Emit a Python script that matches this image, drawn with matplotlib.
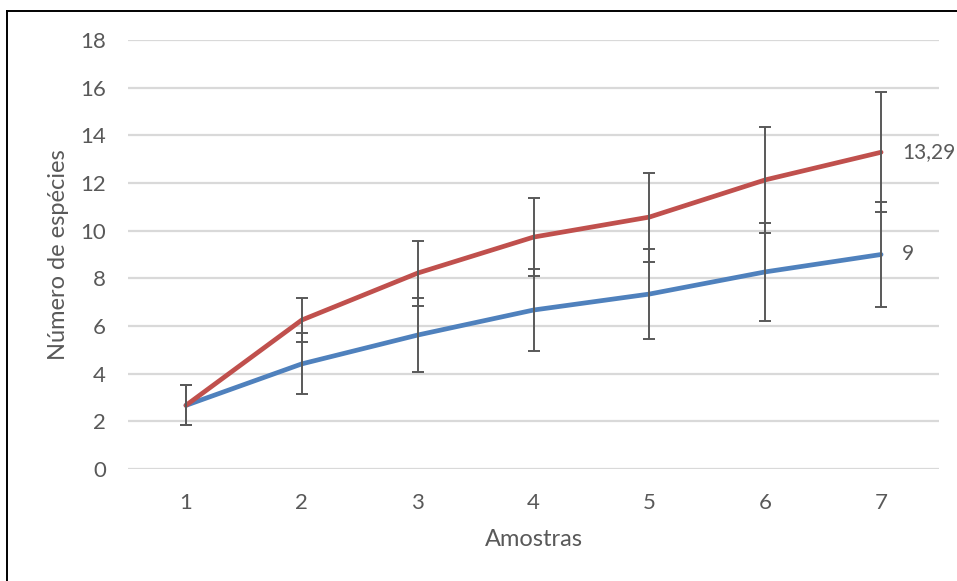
import matplotlib
matplotlib.use("Agg")
import matplotlib.pyplot as plt
from matplotlib.lines import Line2D

plt.rcParams['font.family'] = ['Lato', 'DejaVu Sans']

samples = [1, 2, 3, 4, 5, 6, 7]
red_values = [2.67, 6.25, 8.22, 9.73, 10.57, 12.13, 13.29]
red_err = [0.84, 0.92, 1.36, 1.65, 1.87, 2.24, 2.52]
blue_values = [2.67, 4.41, 5.62, 6.67, 7.34, 8.27, 9.0]
blue_err = [0.84, 1.28, 1.57, 1.73, 1.89, 2.05, 2.20]
yticks = [0, 2, 4, 6, 8, 10, 12, 14, 16, 18]
red_label = "13,29"
blue_label = "9"

RED = "#C0504D"
BLUE = "#4F81BD"
GRID = "#D9D9D9"
TEXT = "#595959"
ERR = "#595959"

W, H = 957, 581
fig = plt.figure(figsize=(W / 100, H / 100), dpi=100)
ax = fig.add_axes([128 / W, 1 - 469 / H, (939 - 128) / W, (469 - 40) / H])

ax.plot(samples, blue_values, color=BLUE, lw=3.4, solid_capstyle='round', zorder=3)
ax.plot(samples, red_values, color=RED, lw=3.4, solid_capstyle='round', zorder=3)
ax.errorbar(samples, blue_values, yerr=blue_err, fmt='none', ecolor=ERR,
            elinewidth=1.4, capsize=4.3, capthick=1.4, zorder=4)
ax.errorbar(samples, red_values, yerr=red_err, fmt='none', ecolor=ERR,
            elinewidth=1.4, capsize=4.3, capthick=1.4, zorder=4)

ax.annotate(red_label, (samples[-1], red_values[-1]), xytext=(15, 0),
            textcoords='offset points', va='center', ha='left',
            fontsize=15, color=TEXT, annotation_clip=False)
ax.annotate(blue_label, (samples[-1], blue_values[-1]), xytext=(15, 0),
            textcoords='offset points', va='center', ha='left',
            fontsize=15, color=TEXT, annotation_clip=False)

ax.set_xlim(0.5, 7.5)
ax.set_ylim(0, 18)
ax.set_xticks(samples)
ax.set_yticks(yticks)
ax.tick_params(length=0, labelsize=16, labelcolor=TEXT)
ax.tick_params(axis='y', pad=16)
ax.tick_params(axis='x', pad=17)
ax.yaxis.grid(True, color=GRID, lw=1.6)
ax.set_axisbelow(True)
for s in ax.spines.values():
    s.set_visible(False)

ax.set_xlabel("Amostras", fontsize=17, color=TEXT, labelpad=12)
ax.set_ylabel("Número de espécies", fontsize=17, color=TEXT, labelpad=8)

# chart frame (left and top edges)
fig.add_artist(Line2D([7.5 / W, 7.5 / W], [0, 1 - 11 / H], color='black', lw=1.4,
                      transform=fig.transFigure))
fig.add_artist(Line2D([7.5 / W, 1], [1 - 11 / H, 1 - 11 / H], color='black', lw=1.4,
                      transform=fig.transFigure))

fig.savefig("out.png", dpi=100)
